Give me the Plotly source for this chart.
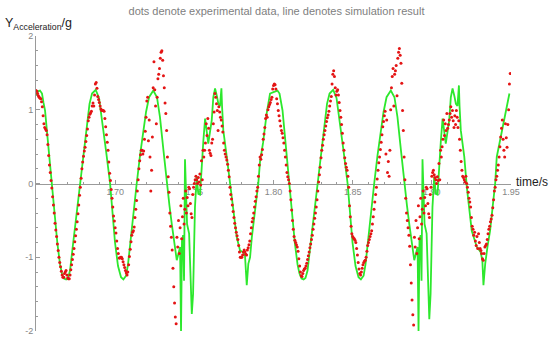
import plotly.graph_objects as go

# ---------------- data ----------------
title_text = "dots denote experimental data, line denotes simulation result"
x_tick_vals = [1.70, 1.75, 1.80, 1.85, 1.90, 1.95]
x_tick_text = ["1.70", "1.75", "1.80", "1.85", "1.90", "1.95"]
y_tick_vals = [-2, -1, 0, 1, 2]
y_tick_text = ["-2", "-1", "0", "1", "2"]

# simulation result (green line)
sim_t = [
    1.6500, 1.6513, 1.6525, 1.6538, 1.6547, 1.6557, 1.6576, 1.6599, 1.6617, 1.6635,
    1.6652, 1.6664, 1.6677, 1.6690, 1.6702, 1.6715, 1.6734, 1.6756, 1.6778, 1.6800,
    1.6820, 1.6838, 1.6854, 1.6877, 1.6898, 1.6915, 1.6942, 1.6968, 1.6983, 1.6999,
    1.7018, 1.7037, 1.7052, 1.7069, 1.7081, 1.7094, 1.7116, 1.7136, 1.7157, 1.7176,
    1.7195, 1.7214, 1.7241, 1.7264, 1.7283, 1.7305, 1.7326, 1.7343, 1.7357, 1.7372,
    1.7389, 1.7400, 1.7410, 1.7416, 1.7422, 1.7429, 1.7435, 1.7441, 1.7448, 1.7454,
    1.7467, 1.7484, 1.7492, 1.7504, 1.7515, 1.7525, 1.7536, 1.7547, 1.7557, 1.7568,
    1.7577, 1.7588, 1.7599, 1.7610, 1.7620, 1.7631, 1.7643, 1.7652, 1.7662, 1.7671,
    1.7675, 1.7683, 1.7705, 1.7726, 1.7746, 1.7768, 1.7789, 1.7808, 1.7820, 1.7831,
    1.7841, 1.7852, 1.7863, 1.7883, 1.7904, 1.7915, 1.7934, 1.7957, 1.7978,
    1.8000, 1.8013, 1.8025, 1.8038, 1.8047, 1.8057, 1.8076, 1.8099, 1.8117, 1.8135,
    1.8152, 1.8164, 1.8177, 1.8190, 1.8202, 1.8215, 1.8234, 1.8256, 1.8278, 1.8300,
    1.8320, 1.8338, 1.8354, 1.8377, 1.8398, 1.8415, 1.8442, 1.8468, 1.8483, 1.8499,
    1.8518, 1.8537, 1.8552, 1.8569, 1.8581, 1.8594, 1.8616, 1.8636, 1.8657, 1.8676,
    1.8695, 1.8714, 1.8741, 1.8764, 1.8783, 1.8805, 1.8826, 1.8843, 1.8857, 1.8872,
    1.8889, 1.8900, 1.8910, 1.8916, 1.8922, 1.8929, 1.8935, 1.8941, 1.8948, 1.8954,
    1.8967, 1.8984, 1.8992, 1.9004, 1.9015, 1.9025, 1.9036, 1.9047, 1.9057, 1.9068,
    1.9077, 1.9088, 1.9099, 1.9110, 1.9120, 1.9131, 1.9143, 1.9152, 1.9162, 1.9171,
    1.9175, 1.9183, 1.9205, 1.9221, 1.9252, 1.9284, 1.9308, 1.9319, 1.9326,
    1.9337, 1.9352, 1.9368, 1.9385, 1.9400, 1.9410, 1.9430, 1.9452, 1.9473, 1.9490,
]
sim_y = [
    1.20, 1.25, 1.26, 1.22, 1.10, 0.99, 0.55, 0.00, -0.42, -0.81,
    -1.10, -1.22, -1.29, -1.30, -1.28, -1.18, -0.82, -0.40, 0.00, 0.42,
    0.81, 1.08, 1.22, 1.27, 1.16, 0.90, 0.45, 0.00, -0.40, -0.80,
    -1.12, -1.27, -1.30, -1.25, -1.10, -0.82, -0.40, 0.00, 0.38, 0.68,
    0.97, 1.17, 1.26, 1.17, 0.90, 0.45, 0.00, -0.30, -0.54, -0.80,
    -1.04, -0.95, -0.86, -2.00, -0.78, -0.70, -1.32, 0.33, -0.40, -0.55,
    -0.68, -1.77, -1.50, -0.32, 0.09, -0.14, -0.15, 0.27, 0.58, 0.88,
    0.75, 0.54, 0.70, 0.86, 1.17, 1.29, 1.18, 1.08, 1.05, 1.29,
    1.05, 0.72, 0.36, 0.00, -0.37, -0.73, -0.91, -0.93, -0.98, -1.38,
    -1.09, -1.00, -0.73, -0.37, 0.00, 0.30, 0.55, 0.95, 1.22,
    1.24, 1.25, 1.26, 1.22, 1.10, 0.99, 0.55, 0.00, -0.42, -0.81,
    -1.10, -1.22, -1.29, -1.30, -1.28, -1.18, -0.82, -0.40, 0.00, 0.42,
    0.81, 1.08, 1.22, 1.27, 1.16, 0.90, 0.45, 0.00, -0.40, -0.80,
    -1.12, -1.27, -1.30, -1.25, -1.10, -0.82, -0.40, 0.00, 0.38, 0.68,
    0.97, 1.17, 1.26, 1.17, 0.90, 0.45, 0.00, -0.30, -0.54, -0.80,
    -1.04, -0.95, -0.86, -2.00, -0.78, -0.70, -1.32, 0.33, -0.40, -0.55,
    -0.68, -1.84, -1.50, -0.32, 0.09, -0.14, -0.15, 0.27, 0.58, 0.88,
    0.75, 0.54, 0.70, 0.86, 1.17, 1.29, 1.18, 1.08, 1.05, 1.33,
    1.05, 0.72, 0.36, -0.05, -0.64, -0.86, -0.93, -1.04, -1.38,
    -1.09, -0.85, -0.64, -0.30, 0.00, 0.36, 0.58, 0.81, 1.08, 1.22,
]

# experimental data (red dots), sampled at 2000 Hz from t = 1.65 s
exp_start = 1.65
exp_rate = 2000.0
exp_y = [
    1.26, 1.25, 1.22, 1.19, 1.17, 1.16, 1.15, 1.11, 1.04, 0.92,
    0.81, 0.76, 0.74, 0.72, 0.66, 0.53, 0.38, 0.25, 0.15, 0.04,
    -0.06, -0.18, -0.29, -0.40, -0.54, -0.63, -0.72, -0.82, -0.91, -1.00,
    -1.07, -1.13, -1.19, -1.24, -1.27, -1.27, -1.22, -1.20, -1.18, -1.24,
    -1.28, -1.29, -1.29, -1.24, -1.17, -1.10, -1.03, -0.96, -0.88, -0.79,
    -0.71, -0.62, -0.52, -0.41, -0.29, -0.16, -0.05, 0.07, 0.20, 0.29,
    0.37, 0.44, 0.49, 0.57, 0.65, 0.74, 0.85, 0.90, 0.94, 0.96,
    0.98, 1.05, 1.09, 1.05, 1.20, 1.35, 1.37, 1.29, 1.18, 1.14,
    1.10, 1.05, 1.01, 0.99, 0.99, 0.99, 0.98, 0.88, 0.77, 0.66,
    0.56, 0.45, 0.29, 0.14, 0.04, -0.08, -0.20, -0.32, -0.44, -0.51,
    -0.60, -0.67, -0.78, -0.88, -0.95, -1.01, -1.01, -1.00, -1.00, -1.02,
    -1.06, -1.10, -1.14, -1.18, -1.21, -1.24, -1.20, -1.10, -0.99, -0.89,
    -0.79, -0.70, -0.66, -0.64, -0.59, -0.46, -0.35, -0.23, -0.10, 0.05,
    0.20, 0.31, 0.39, 0.45, 0.45, 0.40, 0.44, 0.60, 0.71, 0.90,
    1.12, 1.17, 0.58, 0.86, 0.36, -0.10, 0.18, 0.63, 1.30, 1.65,
    1.27, 1.05, 0.81, 1.17, 1.42, 1.48, 1.56, 1.70, 1.78, 1.80,
    1.67, 1.46, 1.30, 1.09, 0.95, 0.72, 0.36, 0.09, -0.12, -0.40,
    -0.58, -0.73, -0.90, -1.15, -1.40, -1.62, -1.81, -1.90, -0.73, -0.86,
    -0.50, -0.95, -0.60, -0.30, -0.75, -0.45, -0.20, -0.55, -0.35, -0.10,
    -0.40, -0.19, -0.30, -0.05, -0.07, -0.27, -0.41, -0.46, -0.15, -0.05,
    0.00, 0.05, 0.10, 0.05, 0.00, 0.08, 0.02, 0.13, -0.02, 0.31,
    0.05, 0.45, 0.36, 0.45, 0.55, 0.81, 0.65, 0.88, 0.75, 0.45,
    0.41, 0.38, 0.55, 0.60, 0.81, 0.97, 1.22, 1.17, 1.08, 0.99,
    0.72, 1.04, 0.97, 0.90, 0.86, 0.78, 0.70, 0.55, 0.45, 0.40,
    0.36, 0.32, 0.26, 0.18, 0.09, -0.05, -0.15, -0.21, -0.29, -0.38,
    -0.46, -0.54, -0.60, -0.66, -0.71, -0.76, -0.84, -0.93, -1.00, -1.00,
    -1.00, -0.97, -0.93, -0.90, -0.93, -0.96, -0.97, -0.90, -0.87, -0.83,
    -0.78, -0.68, -0.60, -0.52, -0.47, -0.40, -0.32, -0.24, -0.18, -0.10,
    -0.05, 0.10, 0.25, 0.36, 0.33, 0.39, 0.46, 0.60, 0.67, 0.76,
    0.88, 0.93, 0.90, 1.00, 1.04, 1.07, 1.10, 1.14, 1.17, 1.28,
    1.33, 1.35, 1.34, 1.28, 1.15, 1.08, 0.99, 0.92, 0.85, 0.78,
    0.72, 0.68, 0.62, 0.55, 0.45, 0.36, 0.25, 0.15, 0.09, 0.05,
    0.00, -0.10, -0.22, -0.36, -0.50, -0.62, -0.72, -0.77, -0.80, -0.83,
    -0.86, -0.92, -1.02, -1.12, -1.20, -1.25, -1.26, -1.22, -1.18, -1.16,
    -1.15, -1.12, -1.08, -1.03, -0.98, -0.93, -0.87, -0.82, -0.76, -0.70,
    -0.62, -0.55, -0.47, -0.40, -0.32, -0.22, -0.10, 0.02, 0.12, 0.22,
    0.35, 0.45, 0.52, 0.60, 0.66, 0.72, 0.78, 0.84, 0.89, 0.93,
    0.98, 1.05, 1.12, 1.18, 1.35, 1.48, 1.53, 1.45, 1.30, 1.20,
    1.25, 1.27, 1.20, 1.10, 0.99, 0.90, 0.80, 0.68, 0.55, 0.45,
    0.35, 0.27, 0.22, 0.18, 0.10, -0.05, -0.30, -0.45, -0.58, -0.68,
    -0.72, -0.74, -0.75, -0.77, -0.80, -0.88, -0.97, -1.07, -1.16, -1.22,
    -1.24, -1.20, -1.15, -1.10, -1.07, -1.05, -1.04, -1.00, -0.92, -0.84,
    -0.80, -0.76, -0.72, -0.68, -0.64, -0.55, -0.45, -0.35, -0.25, -0.15,
    -0.05, 0.06, 0.18, 0.28, 0.36, 0.46, 0.56, 0.66, 0.77, 0.84,
    0.92, 0.98, 0.40, 0.86, 0.15, 0.30, 0.10, 0.45, 1.00, 1.30,
    1.45, 1.56, 1.05, 1.48, 1.53, 1.60, 1.19, 1.70, 1.78, 1.83,
    1.74, 1.63, 1.36, 0.99, 0.72, 0.36, 0.05, -0.20, -0.40, -0.50,
    -0.60, -0.70, -0.85, -1.10, -1.35, -1.58, -1.78, -1.92, -0.73, -0.86,
    -0.50, -0.95, -0.60, -0.30, -0.75, -0.45, -0.20, -0.55, -0.35, -0.10,
    -0.40, -0.19, -0.30, -0.05, -0.07, -0.27, -0.41, -0.46, -0.15, -0.05,
    0.10, 0.15, 0.18, 0.12, 0.08, 0.05, 0.00, 0.09, 0.04, 0.27,
    0.05, 0.45, 0.36, 0.50, 0.60, 0.86, 0.65, 0.81, 0.72, 0.95,
    0.75, 0.80, 0.86, 0.95, 1.04, 0.90, 0.99, 0.85, 0.76, 0.92,
    0.80, 0.99, 0.90, 0.76, 0.85, 0.60, 0.45, 0.30, 0.18, 0.10,
    0.08, 0.05, 0.02, 0.10, 0.00, -0.05, -0.12, -0.20, -0.25, -0.32,
    -0.46, -0.58, -0.62, -0.70, -0.66, -0.78, -0.84, -0.72, -0.88, -0.68,
    -0.80, -0.88, -0.91, -0.95, -1.02, -1.04, -0.95, -0.86, -0.84, -0.82,
    -0.76, -0.68, -0.62, -0.58, -0.52, -0.48, -0.43, -0.33, -0.22, -0.10,
    -0.05, 0.05, 0.10, 0.18, 0.25, 0.36, 0.50, 0.63, 0.75, 0.86,
    0.60, 0.45, 0.36, 0.81, 0.62, 0.49, 0.80, 1.00, 1.35, 1.49,
]
exp_t = [exp_start + i / exp_rate for i in range(len(exp_y))]

# ---------------- figure ----------------
FONT = "Liberation Sans, Arial, sans-serif"
AXIS_COL = "#9a9a9a"
TICK_COL = "#858585"

fig = go.Figure()
fig.add_trace(go.Scatter(
    x=sim_t, y=sim_y, mode="lines",
    line=dict(color="rgb(45,232,45)", width=1.8),
    hoverinfo="skip", showlegend=False,
))
fig.add_trace(go.Scatter(
    x=exp_t, y=exp_y, mode="markers",
    marker=dict(color="rgb(228,20,20)", size=3, line=dict(width=0)),
    hoverinfo="skip", showlegend=False,
))

fig.update_layout(
    template="none",
    width=550, height=337,
    margin=dict(l=36, r=39, t=36, b=6, pad=0),
    paper_bgcolor="white", plot_bgcolor="white",
    font=dict(family=FONT),
    title=dict(text=title_text, x=276.5 / 550, xanchor="center",
               y=1 - 11 / 337, yanchor="middle",
               font=dict(size=11, color="#808080", family=FONT)),
    xaxis=dict(
        range=[1.65, 1.95], anchor="free", position=0.5, side="bottom",
        showline=True, linecolor=AXIS_COL, linewidth=1,
        showgrid=False, zeroline=False, automargin=False,
        tickmode="array", tickvals=x_tick_vals, ticktext=x_tick_text,
        ticks="inside", ticklen=4, tickcolor=AXIS_COL, tickwidth=1,
        tickfont=dict(size=9, color=TICK_COL, family=FONT),
        layer="below traces",
        minor=dict(tick0=1.65, dtick=0.01, ticks="inside", ticklen=2,
                   tickcolor=AXIS_COL, showgrid=False),
    ),
    yaxis=dict(
        range=[-2, 2],
        showline=True, linecolor=AXIS_COL, linewidth=1,
        showgrid=False, zeroline=False, automargin=False,
        tickmode="array", tickvals=y_tick_vals, ticktext=y_tick_text,
        ticks="inside", ticklen=4, tickcolor=AXIS_COL, tickwidth=1,
        tickfont=dict(size=9, color=TICK_COL, family=FONT),
        layer="below traces",
        minor=dict(tick0=0, dtick=0.2, ticks="inside", ticklen=2,
                   tickcolor=AXIS_COL, showgrid=False),
    ),
    annotations=[
        dict(text="Y<sub>Acceleration</sub>/g", xref="paper", yref="paper",
             x=(3 - 36) / 475, y=1 + (36 - 23.5) / 295, xanchor="left", yanchor="middle",
             showarrow=False, font=dict(size=12.5, color="#222222", family=FONT)),
        dict(text="time/s", xref="paper", yref="paper",
             x=(514 - 36) / 475, y=0.5 + 1.5 / 295, xanchor="left", yanchor="middle",
             showarrow=False, font=dict(size=12, color="#222222", family=FONT)),
    ],
)

fig.write_html("out.html", config={"displayModeBar": False},
               post_script="document.body.style.margin='0';")
